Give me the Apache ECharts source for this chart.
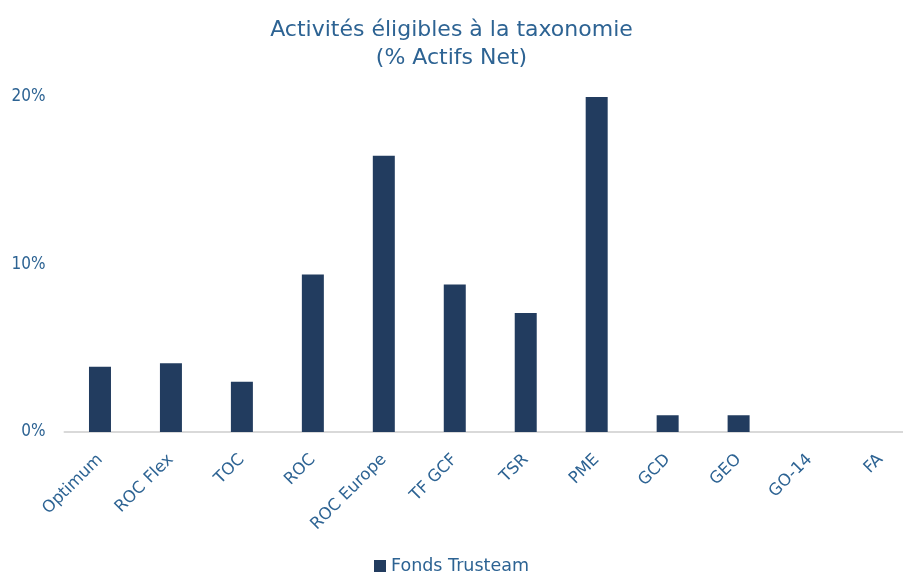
<!DOCTYPE html>
<html>
<head>
<meta charset="utf-8">
<script src="https://cdn.jsdelivr.net/npm/echarts@6/dist/echarts.min.js"></script>
<style>
  html, body { margin: 0; padding: 0; background: #fff; }
  #chart { width: 903px; height: 577px; }
</style>
</head>
<body>
<div id="chart"></div>
<script>
// catégories et valeurs (% actifs nets)
const categories = ['Optimum', 'ROC Flex', 'TOC', 'ROC', 'ROC Europe', 'TF GCF', 'TSR', 'PME', 'GCD', 'GEO', 'GO-14', 'FA'];
const values = [3.9, 4.1, 3.0, 9.4, 16.5, 8.8, 7.1, 20.0, 1.0, 1.0, 0, 0];
const yTicks = [0, 10, 20];

const textColor = '#2d6393';
const font = 'DejaVu Sans';

const myChart = echarts.init(document.getElementById('chart'));
const option = {
  animation: false,
  title: {
    text: 'Activités éligibles à la taxonomie\n(% Actifs Net)',
    left: 'center',
    top: 11,
    textStyle: {
      color: textColor,
      fontFamily: font,
      fontSize: 22,
      fontWeight: 'normal',
      lineHeight: 28,
    },
  },
  legend: {
    data: ['Fonds Trusteam'],
    bottom: -3,
    left: 'center',
    icon: 'rect',
    itemWidth: 12,
    itemHeight: 12,
    itemGap: 5,
    textStyle: { color: textColor, fontFamily: font, fontSize: 17.5 },
  },
  grid: {
    left: 64.5,
    right: -13,
    top: 97,
    bottom: 145,
    containLabel: false,
    outerBoundsMode: 'none',
  },
  xAxis: {
    type: 'category',
    data: categories,
    axisLine: { lineStyle: { color: '#d9d9d9', width: 2 } },
    axisTick: { show: false },
    axisLabel: {
      color: textColor,
      fontFamily: font,
      fontSize: 16.5,
      rotate: 45,
      interval: 0,
      margin: 25,
    },
  },
  yAxis: {
    type: 'value',
    min: 0,
    max: 20,
    interval: 10,
    splitLine: { show: false },
    axisLine: { show: false },
    axisTick: { show: false },
    axisLabel: {
      color: textColor,
      fontFamily: 'DejaVu Sans Condensed',
      fontSize: 17,
      margin: 19,
      formatter: v => (yTicks.includes(v) ? v + '%' : ''),
    },
  },
  series: [
    {
      name: 'Fonds Trusteam',
      type: 'bar',
      data: values,
      barWidth: '31%',
      itemStyle: {
        color: '#223c5f',
      },
    },
  ],
};
myChart.setOption(option);
</script>
</body>
</html>
